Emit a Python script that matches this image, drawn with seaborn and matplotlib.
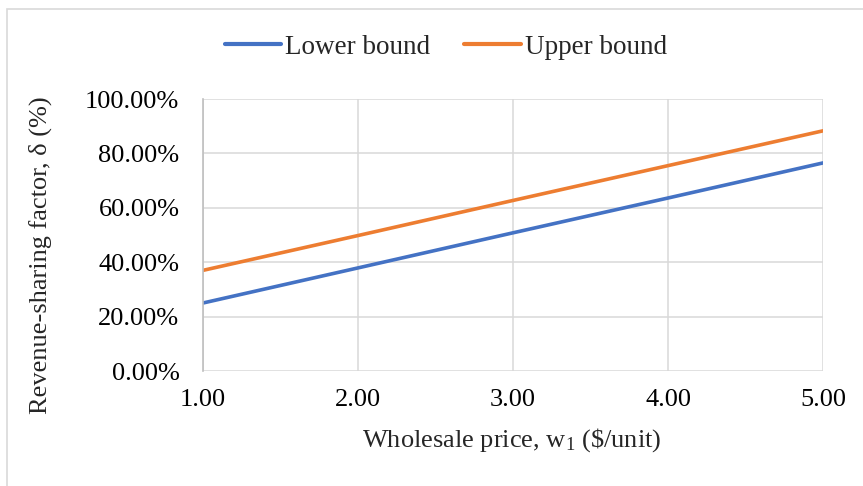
import matplotlib
matplotlib.use("Agg")
import matplotlib.pyplot as plt
import matplotlib.ticker as mticker
from matplotlib.patches import Rectangle
import seaborn as sns
import pandas as pd

wholesale_price = [1.0, 2.0, 3.0, 4.0, 5.0]
lower_bound = [25.0, 37.9, 50.8, 63.6, 76.5]
upper_bound = [37.0, 49.8, 62.7, 75.5, 88.3]
series_names = ["Lower bound", "Upper bound"]
x_ticks = [1.0, 2.0, 3.0, 4.0, 5.0]
y_ticks = [0, 20, 40, 60, 80, 100]

df = pd.DataFrame({
    "w": wholesale_price * 2,
    "delta": lower_bound + upper_bound,
    "series": [series_names[0]] * 5 + [series_names[1]] * 5,
})

sns.set_theme(style="white")
plt.rcParams["font.family"] = ["Liberation Serif", "DejaVu Serif"]
plt.rcParams["mathtext.fontset"] = "custom"
plt.rcParams["mathtext.rm"] = "Liberation Serif"
plt.rcParams["mathtext.it"] = "Liberation Serif:italic"

fig = plt.figure(figsize=(8.63, 4.86), dpi=100)
ax = fig.add_axes([203/863, 1-371/486, 620/863, 272/486])

palette = {"Lower bound": "#4472C4", "Upper bound": "#ED7D31"}
sns.lineplot(data=df, x="w", y="delta", hue="series", palette=palette,
             linewidth=2.6, ax=ax, legend=True)

ax.set_xlim(1, 5)
ax.set_ylim(0, 100)
ax.set_xticks(x_ticks)
ax.set_yticks(y_ticks)
ax.xaxis.set_major_formatter(mticker.FormatStrFormatter("%.2f"))
ax.yaxis.set_major_formatter(mticker.FuncFormatter(lambda v, p: f"{v:.2f}%"))
ax.tick_params(axis="both", length=0, labelsize=19, colors="#000000")
ax.tick_params(axis="y", pad=17)
ax.tick_params(axis="x", pad=13)
ax.grid(True, color="#d9d9d9", linewidth=1.1)
ax.set_axisbelow(True)
for s in ["top", "right", "bottom"]:
    ax.spines[s].set_visible(False)
ax.spines["left"].set_color("#bfbfbf")
ax.spines["left"].set_linewidth(1.2)

ax.set_xlabel("Wholesale price, w$_\\mathrm{1}$ (\\$/unit)", fontsize=19)
ax.xaxis.set_label_coords((512-203)/620, (371-440)/272)
ax.xaxis.label.set_va("center")
ax.set_ylabel("Revenue-sharing factor, δ (%)", fontsize=19)
ax.yaxis.set_label_coords((40-203)/620, (371-255)/272)
ax.yaxis.label.set_va("center")

leg = ax.legend(title=None, loc="center", bbox_to_anchor=(446/863, 1-47/486),
                bbox_transform=fig.transFigure, ncol=2, frameon=False,
                fontsize=19.5, handlelength=2.1, handletextpad=0.15,
                columnspacing=1.25)
for line in leg.get_lines():
    line.set_linewidth(3)

fig.patches.append(Rectangle((7/863, -0.1), 1.2, 1.1 - 9/486, transform=fig.transFigure,
                             fill=False, edgecolor="#d9d9d9", linewidth=1.2))

fig.savefig("out.png", dpi=100, facecolor="white")
